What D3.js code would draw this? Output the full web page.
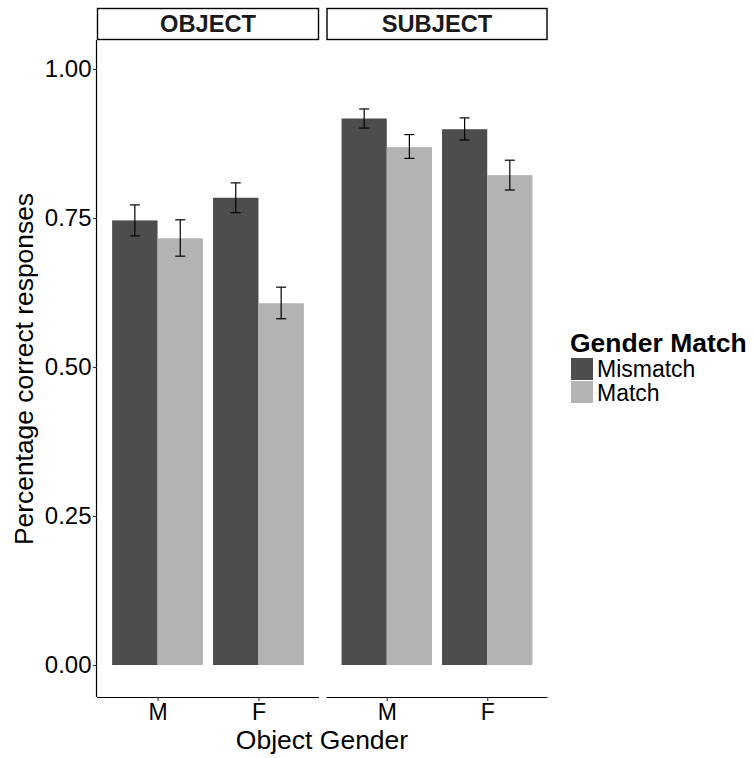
<!DOCTYPE html>
<html><head><meta charset="utf-8">
<script src="https://cdn.jsdelivr.net/npm/d3@7"></script>
<style>body{margin:0;background:#fff}svg{font-family:"Liberation Sans",Arial,sans-serif}</style>
</head><body><svg id="c" width="753" height="758"></svg>
<script>
const panels = ["OBJECT", "SUBJECT"];
const genders = ["M", "F"];
const matchLevels = ["Mismatch", "Match"];
// values indexed [panel][gender][match]
const means = [
  [[0.746, 0.716], [0.784, 0.607]],
  [[0.917, 0.869], [0.899, 0.822]]
];
const errLow = [
  [[0.720, 0.686], [0.759, 0.581]],
  [[0.901, 0.850], [0.881, 0.797]]
];
const errHigh = [
  [[0.772, 0.747], [0.809, 0.634]],
  [[0.933, 0.890], [0.918, 0.847]]
];
const yTicks = [0, 0.25, 0.5, 0.75, 1.0];
const colors = ["#4d4d4d", "#b3b3b3"];

const FONT = "Liberation Sans, Arial, sans-serif";
const svg = d3.select("#c");
const panelX = [[97, 319], [326.5, 547.5]];
const plotTop = 40, plotBottom = 697;
const y = d3.scaleLinear().domain([-0.0537, 1.0487]).range([plotBottom, plotTop]);

panels.forEach((p, pi) => {
  const [x0, x1] = panelX[pi];
  const g = svg.append("g");
  const xc = d3.scalePoint().domain(genders).range([x0, x1]).padding(0.6);
  const unit = (x1 - x0) / 2.2;
  const bw = 0.9 * unit;
  const sub = d3.scaleBand().domain(matchLevels).range([-bw / 2, bw / 2]);

  genders.forEach((gd, gi) => {
    matchLevels.forEach((m, mi) => {
      const cx = xc(gd);
      g.append("rect")
        .attr("x", cx + sub(m))
        .attr("width", sub.bandwidth())
        .attr("y", y(means[pi][gi][mi]))
        .attr("height", y(0) - y(means[pi][gi][mi]))
        .attr("fill", colors[mi]);
    });
  });
  genders.forEach((gd, gi) => {
    matchLevels.forEach((m, mi) => {
      const ex = xc(gd) + sub(m) + sub.bandwidth() / 2;
      const lo = y(errLow[pi][gi][mi]), hi = y(errHigh[pi][gi][mi]);
      const eg = g.append("g").attr("stroke", "#000").attr("stroke-width", 1.2);
      eg.append("line").attr("x1", ex).attr("x2", ex).attr("y1", lo).attr("y2", hi);
      eg.append("line").attr("x1", ex - 5).attr("x2", ex + 5).attr("y1", lo).attr("y2", lo);
      eg.append("line").attr("x1", ex - 5).attr("x2", ex + 5).attr("y1", hi).attr("y2", hi);
    });
  });

  // x axis
  const xAxis = d3.axisBottom(xc).tickSize(4).tickSizeOuter(0).tickPadding(3);
  const ax = svg.append("g").attr("transform", `translate(0,${plotBottom})`).call(xAxis);
  ax.select(".domain").attr("stroke", "#000").attr("stroke-width", 1.2).attr("d", `M${x0},0.5H${x1}`);
  ax.selectAll(".tick line").attr("stroke", "#333").attr("stroke-width", 1.1);
  ax.selectAll(".tick text").attr("font-size", 23).attr("fill", "#000").attr("font-family", FONT);

  // strip
  svg.append("rect").attr("x", x0 + 0.5).attr("y", 8.5).attr("width", x1 - x0 - 1).attr("height", 31)
    .attr("fill", "#fff").attr("stroke", "#000").attr("stroke-width", 1.4);
  svg.append("text").attr("x", (x0 + x1) / 2).attr("y", 31.7).attr("text-anchor", "middle")
    .attr("font-size", 23.7).attr("font-weight", "bold")
    .attr("fill", "#1a1a1a").text(p);
});

// y axis
const yAxis = d3.axisLeft(y).tickValues(yTicks).tickFormat(d3.format(".2f")).tickSize(4).tickSizeOuter(0).tickPadding(1.5);
const ay = svg.append("g").attr("transform", `translate(97,0)`).call(yAxis);
ay.select(".domain").attr("stroke", "#000").attr("stroke-width", 1.2).attr("d", `M-0.5,${plotTop}V${plotBottom}`);
ay.selectAll(".tick line").attr("stroke", "#333").attr("stroke-width", 1.1);
ay.selectAll(".tick text").attr("font-size", 24).attr("fill", "#000").attr("font-family", FONT);

// axis titles
svg.append("text").attr("x", 322).attr("y", 749).attr("text-anchor", "middle").attr("font-size", 26.5)
  .text("Object Gender");
svg.append("text").attr("transform", "translate(33,369) rotate(-90)").attr("text-anchor", "middle")
  .attr("font-size", 26.4).text("Percentage correct responses");

// legend
const lg = svg.append("g");
lg.append("text").attr("x", 570).attr("y", 351.7).attr("font-size", 26.5).attr("font-weight", "bold")
  .text("Gender Match");
matchLevels.forEach((m, i) => {
  lg.append("rect").attr("x", 571).attr("y", 358 + i * 23).attr("width", 22).attr("height", 22).attr("fill", colors[i]);
  lg.append("text").attr("x", 597).attr("y", 377 + i * 23.5).attr("font-size", 23).text(m);
});
</script></body></html>
